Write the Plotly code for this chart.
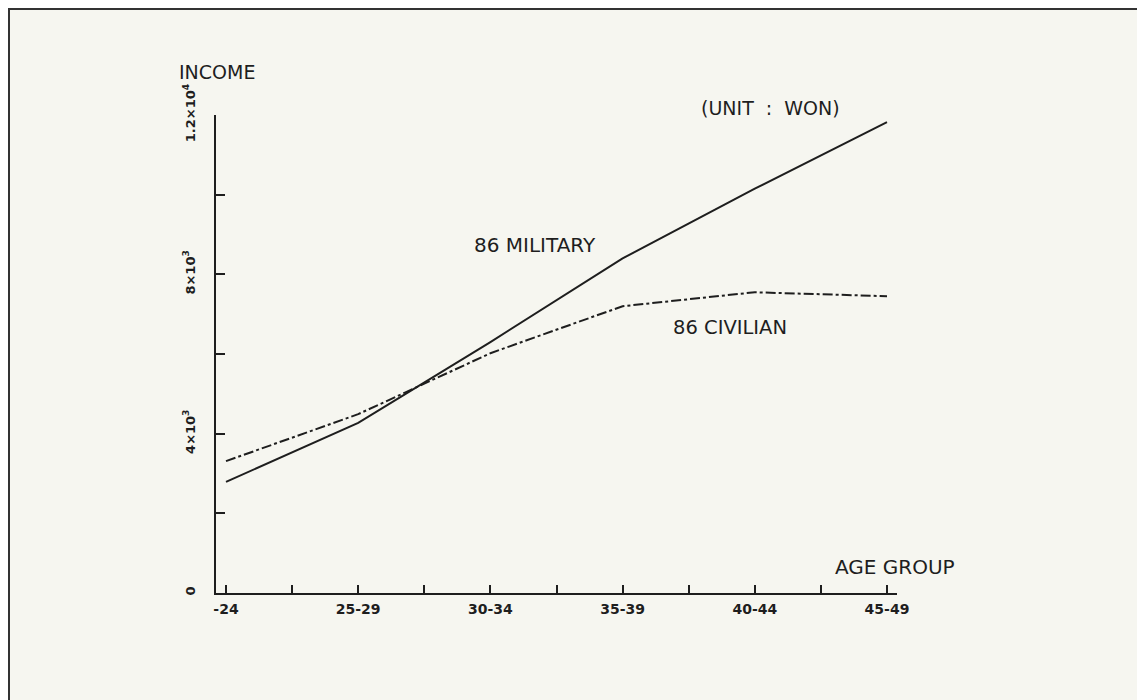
import plotly.graph_objects as go

# ---- data ----
age_groups = ["-24", "25-29", "30-34", "35-39", "40-44", "45-49"]
military_86 = [2790, 4270, 6300, 8400, 10150, 11820]
civilian_86 = [3310, 4490, 6020, 7200, 7550, 7450]
y_major_values = [0, 4000, 8000, 12000]
y_major_labels = ["0", "4×10<sup>3</sup>", "8×10<sup>3</sup>", "1.2×10<sup>4</sup>"]
y_minor_values = [2000, 6000, 10000]

x_pos = list(range(len(age_groups)))
x_minor = [i + 0.5 for i in range(len(age_groups) - 1)]

ink = "#1e1e1e"
font_main = "DejaVu Sans"

fig = go.Figure()
fig.add_trace(go.Scatter(x=x_pos, y=military_86, mode="lines",
                         line=dict(color=ink, width=2), name="86 MILITARY",
                         showlegend=False))
fig.add_trace(go.Scatter(x=x_pos, y=civilian_86, mode="lines",
                         line=dict(color=ink, width=2, dash="10px,3px,3px,3px"),
                         name="86 CIVILIAN", showlegend=False))

OFF = 8  # page body margin
W, H = 1145 - OFF, 700 - OFF
l, t = 216 - OFF, 115 - OFF
pw, ph = 681, 478
r = W - l - pw
b = H - t - ph

def px_to_paper_x(px):
    return (px - OFF - l) / pw

def px_to_paper_y(py):
    return (t + ph - (py - OFF)) / ph

def label(text, px, py, size):
    return dict(text=text, xref="paper", yref="paper",
                x=px_to_paper_x(px), y=px_to_paper_y(py),
                xanchor="center", yanchor="middle", showarrow=False,
                font=dict(size=size, family=font_main, color=ink))

fig.update_layout(
    width=W, height=H,
    margin=dict(l=l, r=r, t=t, b=b, pad=0),
    paper_bgcolor="#f6f6f0",
    plot_bgcolor="#f6f6f0",
    font=dict(family=font_main, color=ink),
    xaxis=dict(
        range=[-10 / 132.2, 5 + 10 / 132.2],
        tickmode="array", tickvals=x_pos, ticktext=age_groups,
        ticks="inside", ticklen=8, tickwidth=1.5, tickcolor=ink,
        minor=dict(tickmode="array", tickvals=x_minor, ticks="inside",
                   ticklen=8, tickwidth=1.5, tickcolor=ink, showgrid=False),
        showline=True, linecolor=ink, linewidth=2,
        showgrid=False, zeroline=False,
        tickfont=dict(family="DejaVu Sans", size=14, color=ink, weight="bold"),
        ticklabelstandoff=2,
    ),
    yaxis=dict(
        range=[0, 12000],
        tickmode="array", tickvals=y_major_values, ticktext=y_major_labels,
        ticks="inside", ticklen=9, tickwidth=1.5, tickcolor=ink,
        minor=dict(tickmode="array", tickvals=y_minor_values, ticks="inside",
                   ticklen=9, tickwidth=1.5, tickcolor=ink, showgrid=False),
        showline=True, linecolor=ink, linewidth=2,
        showgrid=False, zeroline=False,
        tickangle=-90,
        tickfont=dict(family="DejaVu Sans", size=13, color=ink, weight="bold"),
        ticklabelstandoff=14,
    ),
    shapes=[dict(type="rect", xref="paper", yref="paper",
                 x0=px_to_paper_x(9), x1=px_to_paper_x(1141),
                 y0=px_to_paper_y(703), y1=px_to_paper_y(9),
                 line=dict(color="#333", width=2), fillcolor="rgba(0,0,0,0)")],
    annotations=[
        label("INCOME", 217, 72, 19),
        label("(UNIT  :  WON)", 770, 108, 19),
        label("86 MILITARY", 535, 245, 20),
        label("86 CIVILIAN", 730, 327, 19.5),
        label("AGE GROUP", 895, 567, 20),
    ],
)

fig.write_html("out.html")
